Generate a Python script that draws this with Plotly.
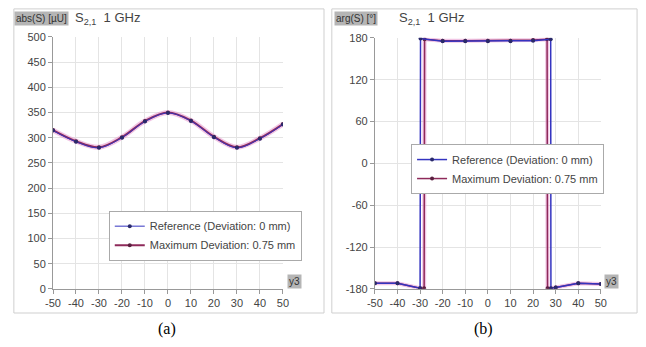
import plotly.graph_objects as go

W, H = 646, 347

# ---- data: magnitude panel (a)
mag_x = [-50, -40, -30, -20, -10, 0, 10, 20, 30, 40, 50]
mag_ref = [314, 292, 280, 300, 332, 349, 333, 301, 280, 298, 326]
mag_dev = [315, 293, 281, 301, 333, 350, 334, 302, 281, 299, 327]
mag_yticks = [0, 50, 100, 150, 200, 250, 300, 350, 400, 450, 500]

# ---- data: phase panel (b)
ph_ref_x = [-50, -40, -30, -29.8, -20, -10, 0, 10, 20, 27.8, 27.9, 30, 40, 50]
ph_ref_y = [-172, -172, -179, 179, 175, 175, 175, 175, 176, 178, -179, -178, -172, -173]
ph_dev_x = [-50, -40, -30, -28.2, -28, -20, -10, 0, 10, 20, 26.2, 26.4, 30, 40, 50]
ph_dev_y = [-172, -172, -179, -179, 178, 176, 176, 176, 176, 177, 178, -179, -178, -172, -173]
ph_yticks = [-180, -120, -60, 0, 60, 120, 180]

x_ticks = [-50, -40, -30, -20, -10, 0, 10, 20, 30, 40, 50]
x_ticktext = [str(v) for v in x_ticks]
mag_ticktext = [str(v) for v in mag_yticks]
ph_ticktext = [str(v) for v in ph_yticks]

BLUE = "#3434c0"
RED = "#8e2a5a"
PINK = "rgba(230,150,205,0.55)"

def px(x):
    return x / W

def py(y):
    return 1 - y / H

fig = go.Figure()

# magnitude: pink glow, deviation line under, reference on top
fig.add_trace(go.Scatter(x=mag_x, y=mag_dev, mode="lines", line=dict(color=PINK, width=5, shape="spline"),
                         showlegend=False, hoverinfo="skip", xaxis="x", yaxis="y"))
fig.add_trace(go.Scatter(x=mag_x, y=mag_dev, mode="lines+markers", name="Maximum Deviation: 0.75 mm",
                         line=dict(color=RED, width=2, shape="spline"), marker=dict(size=4, color="#5a2040"),
                         xaxis="x", yaxis="y", legend="legend", legendrank=2))
fig.add_trace(go.Scatter(x=mag_x, y=mag_ref, mode="lines+markers", name="Reference (Deviation: 0 mm)",
                         line=dict(color=BLUE, width=1, shape="spline"), marker=dict(size=4, color="#2a2a6a"),
                         xaxis="x", yaxis="y", legend="legend", legendrank=1))

# phase
fig.add_trace(go.Scatter(x=ph_dev_x, y=ph_dev_y, mode="lines", line=dict(color=PINK, width=4),
                         showlegend=False, hoverinfo="skip", xaxis="x2", yaxis="y2"))
fig.add_trace(go.Scatter(x=ph_dev_x, y=ph_dev_y, mode="lines+markers", name="Maximum Deviation: 0.75 mm",
                         line=dict(color=RED, width=1.5), marker=dict(size=4, color="#5a2040"),
                         xaxis="x2", yaxis="y2", legend="legend2", legendrank=2))
fig.add_trace(go.Scatter(x=ph_ref_x, y=ph_ref_y, mode="lines+markers", name="Reference (Deviation: 0 mm)",
                         line=dict(color=BLUE, width=1.5), marker=dict(size=4, color="#2a2a6a"),
                         xaxis="x2", yaxis="y2", legend="legend2", legendrank=1))

tickfont = dict(family="Liberation Sans, Arial", size=11, color="#444")
axcommon = dict(showgrid=True, gridcolor="#e4e4e4", gridwidth=1, zeroline=False, showline=True,
                linecolor="#999", linewidth=1, ticks="outside", ticklen=4, tickcolor="#999",
                tickfont=tickfont, fixedrange=True)

ytop, ybot = 32, 293
legfont = dict(family="Liberation Sans, Arial", size=11, color="#444")
fig.update_layout(
    width=W, height=H, margin=dict(l=0, r=0, t=0, b=0),
    paper_bgcolor="white", plot_bgcolor="white",
    xaxis=dict(domain=[px(46), px(281)], range=[-50, 50], tickvals=x_ticks, ticktext=x_ticktext, anchor="y", **axcommon),
    yaxis=dict(domain=[py(ybot), py(ytop)], range=[0, 500], tickvals=mag_yticks, ticktext=mag_ticktext, anchor="x", **axcommon),
    xaxis2=dict(domain=[px(375), px(606)], range=[-50, 50], tickvals=x_ticks, ticktext=x_ticktext, anchor="y2", **axcommon),
    yaxis2=dict(domain=[py(ybot), py(33)], range=[-180, 180], tickvals=ph_yticks, ticktext=ph_ticktext, anchor="x2", **axcommon),
    legend=dict(x=px(103), y=py(212), xanchor="left", yanchor="top", bgcolor="white",
                bordercolor="#aaa", borderwidth=1, font=legfont, tracegroupgap=0, itemwidth=30),
    legend2=dict(x=px(412), y=py(143), xanchor="left", yanchor="top", bgcolor="white",
                 bordercolor="#aaa", borderwidth=1, font=legfont, tracegroupgap=0, itemwidth=30),
    showlegend=True,
)

# panel borders
fig.add_shape(type="rect", xref="paper", yref="paper", x0=px(6), x1=px(323), y0=py(318), y1=py(3),
              line=dict(color="#cfcfcf", width=1), layer="below")
fig.add_shape(type="rect", xref="paper", yref="paper", x0=px(331), x1=px(643), y0=py(318), y1=py(3),
              line=dict(color="#cfcfcf", width=1), layer="below")

lab = dict(family="Liberation Sans, Arial", size=10, color="#333")
title_font = dict(family="Liberation Sans, Arial", size=13, color="#444")
fig.add_annotation(text="abs(S) [µU]", xref="paper", yref="paper", x=px(6), y=py(5), xanchor="left", yanchor="top",
                   showarrow=False, bgcolor="#b5b5b5", font=lab, borderpad=1)
fig.add_annotation(text="S<sub>2,1</sub>  1 GHz", xref="paper", yref="paper", x=px(66), y=py(2), xanchor="left",
                   yanchor="top", showarrow=False, font=title_font)
fig.add_annotation(text="arg(S) [°]", xref="paper", yref="paper", x=px(333), y=py(5), xanchor="left", yanchor="top",
                   showarrow=False, bgcolor="#b5b5b5", font=lab, borderpad=1)
fig.add_annotation(text="S<sub>2,1</sub>  1 GHz", xref="paper", yref="paper", x=px(398), y=py(2), xanchor="left",
                   yanchor="top", showarrow=False, font=title_font)
fig.add_annotation(text="y3", xref="paper", yref="paper", x=px(285), y=py(293), xanchor="left", yanchor="bottom",
                   showarrow=False, bgcolor="#b5b5b5", font=lab, borderpad=1)
fig.add_annotation(text="y3", xref="paper", yref="paper", x=px(609), y=py(293), xanchor="left", yanchor="bottom",
                   showarrow=False, bgcolor="#b5b5b5", font=lab, borderpad=1)

cap = dict(family="Liberation Serif, Times New Roman", size=16, color="#000")
fig.add_annotation(text="(a)", xref="paper", yref="paper", x=px(163), y=py(335), xanchor="center", yanchor="middle",
                   showarrow=False, font=cap)
fig.add_annotation(text="(b)", xref="paper", yref="paper", x=px(486), y=py(335), xanchor="center", yanchor="middle",
                   showarrow=False, font=cap)

fig.write_html("out.html")
